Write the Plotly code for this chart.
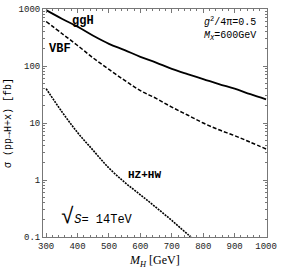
import plotly.graph_objects as go

mass = [300, 350, 400, 450, 500, 550, 600, 650, 700, 750, 800, 850, 900, 950, 1000]
ggH = [955, 676, 490, 339, 245, 190, 145, 115, 89, 72, 59, 48, 40, 32, 26]
vbf = [603, 372, 229, 138, 87, 56, 37, 27, 19, 13.8, 10, 7.6, 6.0, 4.6, 3.5]
hzhw_mass = [300, 350, 400, 450, 500, 550, 600, 650, 700, 750, 800]
hzhw = [40, 15.8, 6.8, 3.3, 1.62, 0.91, 0.55, 0.33, 0.195, 0.112, 0.065]

x_ticks = [300, 400, 500, 600, 700, 800, 900, 1000]
y_ticks = [0.1, 1, 10, 100, 1000]
y_tick_text = ["0.1", "1", "10", "100", "1000"]
y_minor = [m * d for d in (0.1, 1, 10, 100) for m in range(2, 10)]
x_minor = list(range(300, 1001, 20))

mono = "Liberation Mono"
fig = go.Figure()
fig.add_trace(go.Scatter(x=mass, y=ggH, mode="lines", line=dict(color="black", width=1.8, shape="spline")))
fig.add_trace(go.Scatter(x=mass, y=vbf, mode="lines", line=dict(color="black", width=1.5, dash="4px,2px", shape="spline")))
fig.add_trace(go.Scatter(x=hzhw_mass, y=hzhw, mode="lines", line=dict(color="black", width=1.6, dash="2px,1px", shape="spline")))

axis_common = dict(showline=True, mirror="allticks", linecolor="#777", linewidth=1,
                   ticks="inside", ticklen=4, tickcolor="#777", showgrid=False, zeroline=False,
                   ticklabeloverflow="allow",
                   tickfont=dict(family=mono, size=9, color="#222"))
fig.update_xaxes(range=[290, 1003], tickmode="array", tickvals=x_ticks,
                 minor=dict(ticks="inside", ticklen=2, tickmode="array", tickvals=x_minor, tickcolor="#777", showgrid=False),
                 **axis_common)
fig.update_yaxes(type="log", range=[-1, 3], tickmode="array", tickvals=y_ticks, ticktext=y_tick_text,
                 minor=dict(ticks="inside", ticklen=2, tickmode="array", tickvals=y_minor, tickcolor="#777", showgrid=False),
                 title=dict(text="σ (pp→H+x) [fb]", font=dict(family=mono, size=10, color="black"), standoff=5),
                 **axis_common)

def add_text(px, py, text, size=12, xanchor="center", family=mono):
    fig.add_annotation(x=(px - 43) / 231, y=(237 - py) / 232, xref="x domain", yref="y domain",
                       text=text, showarrow=False, xanchor=xanchor, yanchor="middle",
                       font=dict(family=family, size=size, color="black"))

add_text(84, 17, "<b>ggH</b>", 12)
add_text(61, 46, "<b>VBF</b>", 12)
add_text(148, 174, "<b>HZ+HW</b>", 11)
add_text(265, 18, "<i>g</i><sup>2</sup>/4π=0.5", 10, xanchor="right")
add_text(265, 32, "<i>M</i><sub><i>X</i></sub>=600GeV", 10, xanchor="right")
add_text(99, 217, "<span style='font-size:22px'>√</span><i>S</i>= 14TeV", 12)
add_text(158, 261, "<i>M</i><sub><i>H</i></sub> [GeV]", 12, family="Liberation Serif")

fig.update_layout(width=282, height=268, margin=dict(l=43, r=8, t=5, b=31),
                  plot_bgcolor="white", paper_bgcolor="white", showlegend=False)
fig.write_html("out.html", config={"displayModeBar": False},
               post_script="document.body.style.margin='0px';")
